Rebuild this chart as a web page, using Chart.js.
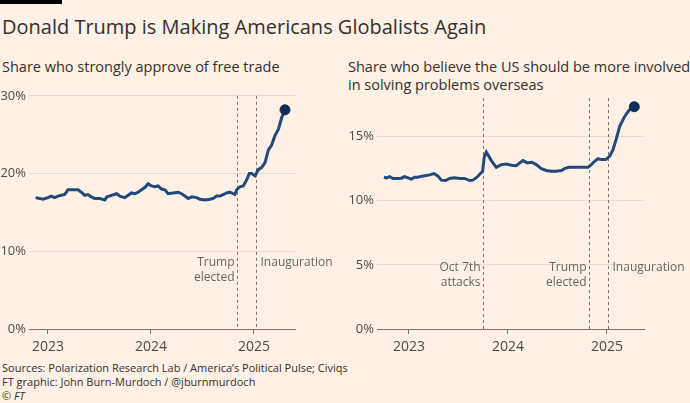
<!DOCTYPE html>
<html>
<head>
<meta charset="utf-8">
<script src="https://cdn.jsdelivr.net/npm/chart.js@4.4.1/dist/chart.umd.min.js"></script>
<style>
  html, body { margin: 0; padding: 0; }
  body {
    width: 690px; height: 403px; overflow: hidden; position: relative;
    background: #fff1e5; color: #33302e;
    font-family: "Open Sans", "Noto Sans", sans-serif;
  }
  .brand { position: absolute; left: 0; top: 0; width: 62px; height: 4px; background: #000; }
  .title { position: absolute; left: 2px; top: 13px; margin: 0; font-size: 20px; font-weight: 400; line-height: 28px; white-space: nowrap; }
  .sub { position: absolute; top: 58px; margin: 0; font-size: 14.5px; line-height: 18px; font-weight: 400; }
  .sub.left { left: 2px; }
  .sub.right { left: 348px; width: 345px; }
  canvas { position: absolute; top: 85px; }
  #left { left: 0; }
  #right { left: 345px; }
  .foot { position: absolute; left: 2px; top: 361px; font-size: 11px; line-height: 14px; }
</style>
</head>
<body>
<div class="brand"></div>
<h1 class="title">Donald Trump is Making Americans Globalists Again</h1>
<p class="sub left">Share who strongly approve of free trade</p>
<p class="sub right">Share who believe the US should be more involved<br>in solving problems overseas</p>
<canvas id="left" width="345" height="275"></canvas>
<canvas id="right" width="345" height="275"></canvas>
<div class="foot">Sources: Polarization Research Lab / America’s Political Pulse; Civiqs<br>FT graphic: John Burn-Murdoch / @jburnmurdoch<br>© <i>FT</i></div>

<script>
// ---- data (dates as decimal years) ----
const yearTicks = [2023, 2024, 2025];

const tradeYears = [2022.880, 2022.919, 2022.951, 2023.000, 2023.032, 2023.065, 2023.097, 2023.130, 2023.162, 2023.194,
  2023.227, 2023.259, 2023.292, 2023.324, 2023.357, 2023.389, 2023.421, 2023.454, 2023.502, 2023.551,
  2023.574, 2023.616, 2023.665, 2023.697, 2023.746, 2023.778, 2023.810, 2023.843, 2023.875, 2023.908,
  2023.940, 2023.972, 2024.005, 2024.037, 2024.070, 2024.102, 2024.135, 2024.167, 2024.216, 2024.264,
  2024.297, 2024.329, 2024.361, 2024.394, 2024.442, 2024.475, 2024.524, 2024.572, 2024.605, 2024.637,
  2024.669, 2024.702, 2024.734, 2024.767, 2024.799, 2024.815, 2024.831, 2024.864, 2024.896, 2024.929,
  2024.955, 2024.977, 2025.010, 2025.042, 2025.075, 2025.107, 2025.139, 2025.172, 2025.204, 2025.237,
  2025.269, 2025.285, 2025.301];
const tradeValues = [16.9, 16.8, 16.7, 16.9, 17.1, 16.9, 17.1, 17.2, 17.3, 17.9,
  17.9, 17.9, 17.9, 17.6, 17.2, 17.3, 17.0, 16.8, 16.8, 16.6,
  17.0, 17.2, 17.4, 17.1, 16.9, 17.2, 17.5, 17.4, 17.6, 17.9,
  18.2, 18.7, 18.4, 18.3, 18.4, 18.0, 17.9, 17.4, 17.5, 17.6,
  17.4, 17.1, 16.8, 17.0, 16.9, 16.7, 16.6, 16.7, 16.8, 17.1,
  17.1, 17.3, 17.5, 17.6, 17.4, 17.3, 17.9, 18.3, 18.4, 19.2,
  20.0, 20.0, 19.7, 20.5, 20.8, 21.4, 23.0, 23.7, 24.9, 25.7,
  27.2, 27.7, 28.2];
const tradeYTicks = [0, 10, 20, 30];

const involvedYears = [2022.747, 2022.771, 2022.805, 2022.838, 2022.889, 2022.923, 2022.956, 2022.990, 2023.024, 2023.057,
  2023.091, 2023.131, 2023.175, 2023.209, 2023.253, 2023.293, 2023.327, 2023.370, 2023.411, 2023.461,
  2023.512, 2023.562, 2023.613, 2023.646, 2023.687, 2023.724, 2023.744, 2023.760, 2023.781, 2023.832,
  2023.882, 2023.933, 2023.983, 2024.034, 2024.084, 2024.118, 2024.152, 2024.195, 2024.242, 2024.286,
  2024.337, 2024.387, 2024.438, 2024.488, 2024.539, 2024.572, 2024.613, 2024.657, 2024.707, 2024.758,
  2024.808, 2024.842, 2024.875, 2024.909, 2024.943, 2024.987, 2025.027, 2025.061, 2025.094, 2025.128,
  2025.172, 2025.212, 2025.246, 2025.276];
const involvedValues = [11.83, 11.78, 11.88, 11.73, 11.73, 11.75, 11.88, 11.78, 11.68, 11.83,
  11.83, 11.91, 11.96, 12.01, 12.11, 11.91, 11.6, 11.57, 11.73, 11.78,
  11.73, 11.73, 11.57, 11.6, 11.83, 12.14, 12.29, 13.4, 13.79, 13.12,
  12.6, 12.81, 12.86, 12.76, 12.73, 12.94, 13.12, 12.94, 12.99, 12.81,
  12.5, 12.35, 12.29, 12.29, 12.35, 12.5, 12.6, 12.6, 12.6, 12.6,
  12.6, 12.81, 13.07, 13.27, 13.2, 13.2, 13.45, 13.97, 14.82, 15.77,
  16.47, 16.93, 17.24, 17.32];
const involvedYTicks = [0, 5, 10, 15];

const tradeEvents = [
  { date: 2024.835, label: ['Trump', 'elected'] },
  { date: 2025.019, label: ['Inauguration'] }
];
const involvedEvents = [
  { date: 2023.752, label: ['Oct 7th', 'attacks'] },
  { date: 2024.823, label: ['Trump', 'elected'] },
  { date: 2025.010, label: ['Inauguration'] }
];

// ---- styling ----
const FONT = '"Open Sans", "Noto Sans", sans-serif';
const LINE = '#21497a';
const DOT = '#0e2c57';
const GRID = '#e8dbcf';
const AXIS = '#7a736e';
const TICK_TEXT = '#4f4a46';
const NOTE_TEXT = '#6b6560';

// dashed event lines with their labels
const eventLines = {
  id: 'eventLines',
  beforeDatasetsDraw(chart, args, opts) {
    const { ctx, chartArea } = chart;
    const xs = chart.scales.x;
    ctx.save();
    ctx.font = '12px ' + FONT;
    ctx.textBaseline = 'middle';
    opts.events.forEach((ev, i) => {
      const px = Math.round(xs.getPixelForValue(ev.date)) + 0.5;
      ctx.strokeStyle = AXIS;
      ctx.lineWidth = 1;
      ctx.setLineDash([3, 3]);
      ctx.beginPath();
      ctx.moveTo(px, chartArea.top);
      ctx.lineTo(px, chartArea.bottom);
      ctx.stroke();
      ctx.setLineDash([]);
      ctx.fillStyle = NOTE_TEXT;
      const rightSide = i === opts.events.length - 1;
      ctx.textAlign = rightSide ? 'left' : 'right';
      const tx = rightSide ? px + 4 : px - 3;
      ev.label.forEach((t, j) => {
        ctx.fillText(t, tx, chartArea.bottom - opts.labelOffset + j * 14.5);
      });
    });
    ctx.restore();
  }
};

function makeChart(id, years, values, yTicks, events, cfg) {
  const points = years.map((x, i) => ({ x, y: values[i] }));
  const last = points.length - 1;
  return new Chart(document.getElementById(id), {
    type: 'line',
    data: {
      datasets: [{
        data: points,
        borderColor: LINE,
        borderWidth: 3,
        tension: 0,
        pointRadius: c => c.dataIndex === last ? 5 : 0,
        pointBackgroundColor: DOT,
        pointBorderColor: DOT,
        pointBorderWidth: 1,
        clip: false
      }]
    },
    options: {
      responsive: false,
      animation: false,
      layout: { padding: cfg.padding },
      plugins: {
        legend: { display: false },
        tooltip: { enabled: false },
        eventLines: { events, labelOffset: cfg.labelOffset }
      },
      scales: {
        x: {
          type: 'linear',
          min: cfg.xMin,
          max: cfg.xMax,
          afterBuildTicks: s => { s.ticks = yearTicks.map(v => ({ value: v })); },
          afterFit: s => { s.height = 31; },
          grid: { drawOnChartArea: false, drawTicks: true, tickLength: 5, color: AXIS },
          border: { display: true, color: AXIS, width: 1 },
          ticks: { color: TICK_TEXT, font: { family: FONT, size: 14 }, padding: 5, maxRotation: 0, callback: v => String(v) }
        },
        y: {
          min: 0,
          max: cfg.yMax,
          afterBuildTicks: s => { s.ticks = yTicks.map(v => ({ value: v })); },
          afterFit: s => { s.width = cfg.yWidth; },
          grid: { color: c => c.tick.value === 0 ? 'rgba(0,0,0,0)' : GRID, drawTicks: false },
          border: { display: false },
          ticks: { color: TICK_TEXT, font: { family: FONT, size: 13 }, padding: cfg.yPad, callback: v => v + '%' }
        }
      }
    },
    plugins: [eventLines]
  });
}

makeChart('left', tradeYears, tradeValues, tradeYTicks, tradeEvents, {
  padding: { left: 0, right: 50, top: 7, bottom: 0 },
  xMin: 2022.816, xMax: 2025.398, yMax: 30, yWidth: 29, yPad: 3, labelOffset: 66
});
makeChart('right', involvedYears, involvedValues, involvedYTicks, involvedEvents, {
  padding: { left: 4, right: 46, top: 13, bottom: 0 },
  xMin: 2022.677, xMax: 2025.374, yMax: 18, yWidth: 28, yPad: 3, labelOffset: 61
});
</script>
</body>
</html>
